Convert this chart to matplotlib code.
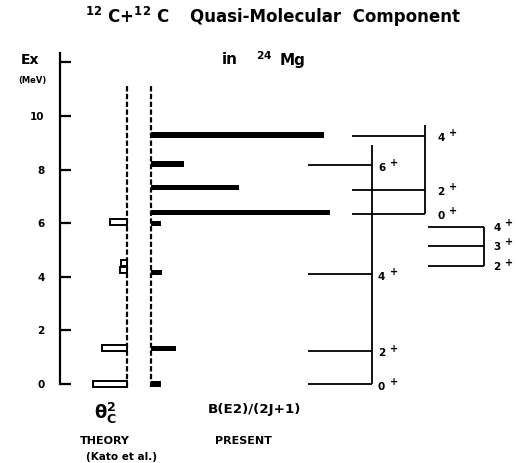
import matplotlib
matplotlib.use('Agg')
import matplotlib.pyplot as plt

plt.rcParams['font.family'] = ['DejaVu Sans']
plt.rcParams['font.weight'] = 'bold'
plt.rcParams['mathtext.fontset'] = 'dejavusans'
plt.rcParams['mathtext.default'] = 'bf'

# ---------------- data ----------------
yticks = [0, 2, 4, 6, 8, 10, 12]
ytick_labels = ['0', '2', '4', '6', '8', '10', '']

# theory (Kato et al.) theta_C^2 strengths (arbitrary units, drawn leftward)
theory_E = [0.0, 1.36, 4.25, 4.51, 6.04]
theory_val = [34, 25, 7, 6, 17]

# present B(E2)/(2J+1) strengths (arbitrary units, drawn rightward)
present_E = [9.29, 8.21, 7.33, 6.39, 6.00, 4.15, 1.32, 0.0]
present_val = [173, 33, 88, 179, 10, 11, 25, 10]

# level scheme of 24Mg
ground_E = [0.0, 1.24, 4.10, 8.17]
ground_J = ['0', '2', '4', '6']
quasi_E = [6.33, 7.24, 9.25]
quasi_J = ['0', '2', '4']
gamma_E = [4.40, 5.16, 5.87]
gamma_J = ['2', '3', '4']

# ---------------- figure ----------------
W, H = 516, 463
fig = plt.figure(figsize=(W / 100, H / 100), dpi=100)
ax = fig.add_axes([0, 0, 1, 1])
y0_px, ppm = 384.0, 26.8
ax.set_xlim(0, W)
ax.set_ylim((y0_px - H) / ppm, y0_px / ppm)

for s in ['top', 'right', 'bottom']:
    ax.spines[s].set_visible(False)
ax.spines['left'].set_position(('data', 60))
ax.spines['left'].set_bounds(0, 12.35)
ax.spines['left'].set_linewidth(1.6)
ax.set_xticks([])
ax.set_yticks(yticks)
ax.set_yticklabels(ytick_labels)
ax.tick_params(axis='y', direction='in', length=8, width=1.6, pad=11, labelsize=7.5)
for t in ax.get_yticklabels():
    t.set_fontweight('bold')

# dashed reference lines
x_theory, x_present = 127, 151
ax.vlines([x_theory, x_present], -0.12, 11.15, colors='black', lw=1.6,
          linestyles=[(0, (2.4, 1.1))])

# theory bars (hollow)
ax.barh(theory_E, theory_val, left=[x_theory - v for v in theory_val], height=0.22,
        facecolor='white', edgecolor='black', lw=1.4, zorder=3)

# present bars (solid)
ax.barh(present_E, present_val, left=x_present, height=0.2, color='black', zorder=3)


def spin_label(x, e, j):
    ax.text(x, e, j, fontsize=7.5, va='center', ha='left')
    ax.text(x + 12, e + 0.17, '+', fontsize=7, va='center', ha='left')


# level scheme
lw = 1.3
ax.hlines(ground_E, 308, 372, colors='black', lw=lw)
ax.vlines(372, 0.0, 8.92, colors='black', lw=lw)
for e, j in zip(ground_E, ground_J):
    spin_label(378, e - 0.1, j)

ax.hlines(quasi_E, 352, 425, colors='black', lw=lw)
ax.vlines(425, quasi_E[0], 9.66, colors='black', lw=lw)
for e, j in zip(quasi_E, quasi_J):
    spin_label(437, e - 0.06, j)

ax.hlines(gamma_E, 428, 484, colors='black', lw=lw)
ax.vlines(484, gamma_E[0], gamma_E[-1], colors='black', lw=lw)
for e, j in zip(gamma_E, gamma_J):
    spin_label(493, e - 0.04, j)

# texts
fig.text(85 / W, 1 - 17 / H, r'$^{12}$ C+$^{12}$ C', fontsize=12, ha='left', va='center')
fig.text(190 / W, 1 - 17 / H, 'Quasi-Molecular  Component', fontsize=12, ha='left', va='center')
fig.text(222 / W, 1 - 60 / H, 'in', fontsize=11, ha='left', va='center')
fig.text(256 / W, 1 - 60 / H, r'$^{24}$', fontsize=11, ha='left', va='center')
fig.text(280 / W, 1 - 60 / H, 'Mg', fontsize=11, ha='left', va='center')
fig.text(30 / W, 1 - 60 / H, 'Ex', fontsize=10, ha='center', va='center')
fig.text(32 / W, 1 - 81 / H, '(MeV)', fontsize=6, ha='center', va='center')
fig.text(105 / W, 1 - 413 / H, r'$\theta_{C}^{2}$', fontsize=13, ha='center', va='center')
fig.text(105 / W, 1 - 441 / H, 'THEORY', fontsize=8, ha='center', va='center')
fig.text(121 / W, 1 - 457 / H, '(Kato et al.)', fontsize=7.5, ha='center', va='center')
fig.text(254 / W, 1 - 409 / H, 'B(E2)/(2J+1)', fontsize=9.7, ha='center', va='center')
fig.text(243 / W, 1 - 441 / H, 'PRESENT', fontsize=8, ha='center', va='center')

fig.savefig('out.png', dpi=100)
